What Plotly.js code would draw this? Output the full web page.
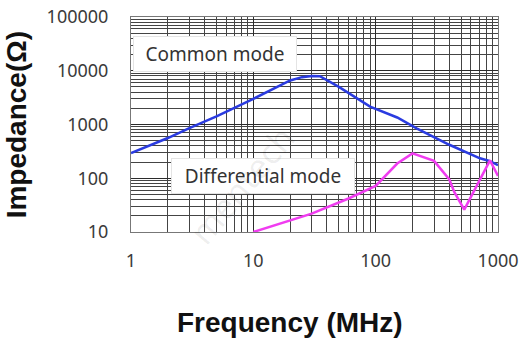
<!DOCTYPE html>
<html>
<head>
<meta charset="utf-8">
<script src="https://cdn.plot.ly/plotly-3.0.1.min.js"></script>
<style>html,body{margin:0;padding:0;background:#fff;}#chart{width:525px;height:340px;}</style>
</head>
<body>
<div id="chart"></div>
<script>
// Common mode impedance (Ω) vs frequency (MHz)
const cmFreq = [1, 2, 3, 5, 10, 15, 20, 25, 30, 35, 50, 90, 150, 216, 400, 712, 850, 1000];
const cmImp  = [295, 560, 860, 1420, 3000, 4750, 6600, 7600, 8000, 7900, 5000, 2150, 1350, 850, 420, 235, 210, 175];

// Differential mode impedance (Ω) vs frequency (MHz)
const dmFreq = [10, 30, 60, 100, 150, 200, 300, 400, 440, 530, 860, 1000];
const dmImp  = [10, 22, 42, 72, 188, 290, 210, 95, 55, 26, 215, 110];

const xTickVals = [1, 10, 100, 1000];
const xTickText = ["1", "10", "100", "1000"];
const yTickVals = [10, 100, 1000, 10000, 100000];
const yTickText = ["10", "100", "1000", "10000", "100000"];

const seriesNames = ["Common mode", "Differential mode"];

const traces = [
  {x: cmFreq, y: cmImp, mode: "lines", name: seriesNames[0],
   line: {color: "#2a3be0", width: 2.5}},
  {x: dmFreq, y: dmImp, mode: "lines", name: seriesNames[1],
   line: {color: "#f03cf0", width: 2.5}}
];

const tickFont = {family: "Noto Sans, sans-serif", size: 18, color: "#3a3a3a"};
const titleFont = {family: "Liberation Sans, Arial, sans-serif", size: 28, color: "#111"};

const layout = {
  width: 525, height: 340,
  margin: {l: 131, r: 27, t: 17, b: 108},
  paper_bgcolor: "#fff", plot_bgcolor: "#fff",
  showlegend: false,
  xaxis: {
    type: "log", range: [0, 3],
    tickvals: xTickVals, ticktext: xTickText,
    tickfont: tickFont, ticks: "", ticklabelstandoff: 12,
    showgrid: true, gridcolor: "#2b2b2b", gridwidth: 1,
    minor: {dtick: "D1", showgrid: true, gridcolor: "#444", gridwidth: 1},
    showline: true, linecolor: "#777", linewidth: 1, mirror: true,
    zeroline: false
  },
  yaxis: {
    type: "log", range: [1, 5],
    tickvals: yTickVals, ticktext: yTickText,
    tickfont: tickFont, ticks: "", ticklabelstandoff: 18,
    showgrid: true, gridcolor: "#2b2b2b", gridwidth: 1,
    minor: {dtick: "D1", showgrid: true, gridcolor: "#444", gridwidth: 1},
    showline: true, linecolor: "#777", linewidth: 1, mirror: true,
    zeroline: false
  },
  annotations: [
    {text: seriesNames[0], xref: "paper", yref: "paper", x: 0.229, y: 0.828,
     xanchor: "center", yanchor: "middle", showarrow: false,
     width: 160, height: 32, bgcolor: "#fff", bordercolor: "#e4e4e4", borderwidth: 1,
     font: {family: "Noto Sans, sans-serif", size: 19, color: "#333"}},
    {text: seriesNames[1], xref: "paper", yref: "paper", x: 0.36, y: 0.26,
     xanchor: "center", yanchor: "middle", showarrow: false,
     width: 180, height: 32, bgcolor: "#fff", bordercolor: "#e4e4e4", borderwidth: 1,
     font: {family: "Noto Sans, sans-serif", size: 19, color: "#333"}},
    {text: "<b>Frequency (MHz)</b>", xref: "paper", yref: "paper", x: 0.433, y: -0.419,
     xanchor: "center", yanchor: "middle", showarrow: false, font: titleFont},
    {text: "<b>Impedance(Ω)</b>", xref: "paper", yref: "paper", x: -0.311, y: 0.5,
     xanchor: "center", yanchor: "middle", showarrow: false, textangle: -90, font: titleFont},
    {text: "mentech", xref: "paper", yref: "paper", x: 0.3, y: 0.22,
     xanchor: "center", yanchor: "middle", showarrow: false, textangle: -50,
     font: {family: "Noto Sans, sans-serif", size: 34, color: "rgba(0,0,0,0.07)"}}
  ]
};

Plotly.newPlot("chart", traces, layout, {displayModeBar: false, staticPlot: true});
</script>
</body>
</html>
